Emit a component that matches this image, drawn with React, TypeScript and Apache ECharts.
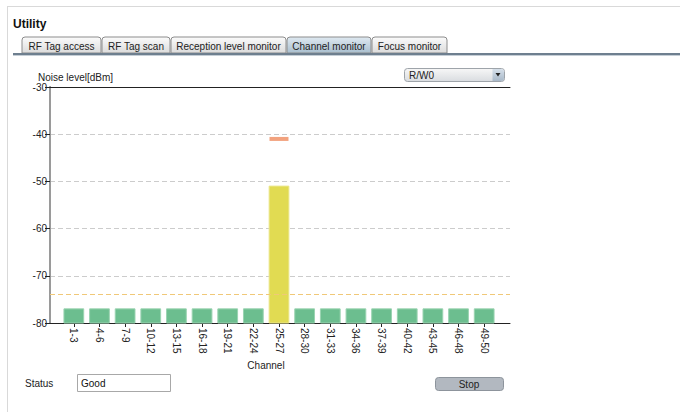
import React, { useEffect, useRef } from "react";
import * as echarts from "echarts";

const channelLabels = ["1-3", "4-6", "7-9", "10-12", "13-15", "16-18", "19-21", "22-24", "25-27", "28-30", "31-33", "34-36", "37-39", "40-42", "43-45", "46-48", "49-50"];
const noiseLevels = [-77, -77, -77, -77, -77, -77, -77, -77, -51, -77, -77, -77, -77, -77, -77, -77, -77];
const peakLevels: (number | string)[] = ["-", "-", "-", "-", "-", "-", "-", "-", -41, "-", "-", "-", "-", "-", "-", "-", "-"];
const threshold = -74;
const yMin = -80;
const yMax = -30;
const yStep = 10;
const tabs = ["RF Tag access", "RF Tag scan", "Reception level monitor", "Channel monitor", "Focus monitor"];
const activeTab = "Channel monitor";

const FONT = "'Liberation Sans', Arial, sans-serif";

export default function App() {
  const ref = useRef<HTMLDivElement>(null);
  useEffect(() => {
    if (!ref.current) return;
    const chart = echarts.init(ref.current, undefined, { renderer: "svg" });

    const tabEdges = [22, 102, 171, 287, 372, 448];
    const tabGraphics: any[] = [];
    tabs.forEach((t, i) => {
      const x0 = tabEdges[i];
      const x1 = tabEdges[i + 1] - 1;
      const active = t === activeTab;
      tabGraphics.push({
        type: "rect",
        shape: { x: x0, y: 37, width: x1 - x0, height: 16, r: [3, 3, 0, 0] },
        style: {
          fill: new echarts.graphic.LinearGradient(0, 0, 0, 1, active
            ? [{ offset: 0, color: "#dfe9f1" }, { offset: 1, color: "#a9bfcf" }]
            : [{ offset: 0, color: "#fbfbfb" }, { offset: 1, color: "#dcdcdc" }]),
          stroke: "#8c8c8c",
          lineWidth: 1,
        },
      });
      tabGraphics.push({
        type: "text",
        style: { text: t, x: (x0 + x1) / 2, y: 46, textAlign: "center", textVerticalAlign: "middle", font: `10px ${FONT}`, fill: "#222" },
      });
    });

    const option: any = {
      animation: false,
      backgroundColor: "#ffffff",
      grid: [
        { left: 50, top: 87, width: 460, height: 236, show: false },
        { left: 61, top: 87, width: 436, height: 236, show: false },
      ],
      xAxis: [
        {
          gridIndex: 0, type: "value", min: 0, max: 1,
          axisLine: { show: true, lineStyle: { color: "#222", width: 1 } },
          axisTick: { show: false }, axisLabel: { show: false }, splitLine: { show: false },
        },
        {
          gridIndex: 0, type: "value", position: "top", min: 0, max: 1,
          axisLine: { show: true, lineStyle: { color: "#222", width: 1 } },
          axisTick: { show: false }, axisLabel: { show: false }, splitLine: { show: false },
        },
        {
          gridIndex: 1, type: "category", data: channelLabels,
          axisLine: { show: true, lineStyle: { color: "#222", width: 1 } },
          axisTick: { show: true, alignWithLabel: true, length: 4, lineStyle: { color: "#222" } },
          axisLabel: { rotate: -90, fontSize: 10, fontFamily: FONT, color: "#222", margin: 5, interval: 0 },
          splitLine: { show: false },
        },
      ],
      yAxis: [
        {
          gridIndex: 0, type: "value", min: yMin, max: yMax, interval: yStep,
          axisLine: { show: true, lineStyle: { color: "#222", width: 1 } },
          axisTick: { show: true, length: 5, lineStyle: { color: "#222" } },
          axisLabel: { fontSize: 10, fontFamily: FONT, color: "#222", margin: 3 },
          splitLine: { show: true, lineStyle: { color: "#cccccc", type: [5, 3], width: 1 } },
        },
        {
          gridIndex: 0, type: "value", position: "right", min: yMin, max: yMax,
          axisLine: { show: true, lineStyle: { color: "#9a9a9a", width: 2 } },
          axisTick: { show: false }, axisLabel: { show: false }, splitLine: { show: false },
        },
        { gridIndex: 1, type: "value", min: yMin, max: yMax, show: false },
      ],
      series: [
        {
          type: "line",
          xAxisIndex: 0,
          yAxisIndex: 0,
          data: [],
          silent: true,
          markLine: {
            silent: true,
            symbol: "none",
            label: { show: false },
            lineStyle: { color: "#f0c878", type: [5, 3], width: 1 },
            data: [[{ coord: [0, threshold] }, { coord: [1, threshold] }]],
          },
        },
        {
          type: "custom",
          xAxisIndex: 2,
          yAxisIndex: 2,
          data: noiseLevels.map((v, i) => [i, v]),
          renderItem: (params: any, api: any) => {
            const idx = api.value(0);
            const v = api.value(1);
            const top = api.coord([idx, v]);
            const bottom = api.coord([idx, yMin]);
            const w = api.size([1, 0])[0] * 0.77;
            return {
              type: "rect",
              shape: { x: top[0] - w / 2, y: top[1], width: w, height: bottom[1] - top[1] },
              style: { fill: v > threshold ? "#e1db52" : "#6cbe8f", stroke: v > threshold ? "#ebe68a" : "#9ad3b1", lineWidth: 1 },
            };
          },
        },
        {
          type: "scatter",
          xAxisIndex: 2,
          yAxisIndex: 2,
          symbol: "rect",
          symbolSize: [19, 4],
          itemStyle: { color: "#f2a27e", opacity: 1 },
          data: peakLevels,
        },
      ],
      graphic: [
        { type: "line", shape: { x1: 7, y1: 6.5, x2: 680, y2: 6.5 }, style: { stroke: "#d9d9d9", lineWidth: 1 } },
        { type: "line", shape: { x1: 7.5, y1: 6, x2: 7.5, y2: 412 }, style: { stroke: "#d9d9d9", lineWidth: 1 } },
        { type: "text", style: { text: "Utility", x: 13, y: 24, textVerticalAlign: "middle", font: `bold 12px ${FONT}`, fill: "#111" } },
        ...tabGraphics,
        { type: "rect", shape: { x: 13, y: 53, width: 667, height: 2 }, style: { fill: "#6e7f8f" } },
        { type: "rect", shape: { x: 13, y: 55, width: 667, height: 1 }, style: { fill: "#c5ced6" } },
        { type: "text", style: { text: "Noise level[dBm]", x: 38, y: 77, textVerticalAlign: "middle", font: `10px ${FONT}`, fill: "#222" } },
        {
          type: "rect", shape: { x: 404.5, y: 68.5, width: 100, height: 13, r: 3 },
          style: {
            fill: new echarts.graphic.LinearGradient(0, 0, 0, 1, [{ offset: 0, color: "#f7f7f7" }, { offset: 1, color: "#d9dce0" }]),
            stroke: "#9ea4aa", lineWidth: 1,
          },
        },
        {
          type: "rect", shape: { x: 492.5, y: 69, width: 11.5, height: 12, r: [0, 3, 3, 0] },
          style: { fill: new echarts.graphic.LinearGradient(0, 0, 0, 1, [{ offset: 0, color: "#d6e0ea" }, { offset: 1, color: "#a9b9c9" }]) },
        },
        { type: "polygon", shape: { points: [[495.5, 73], [500.5, 73], [498, 76.5]] }, style: { fill: "#222" } },
        { type: "text", style: { text: "R/W0", x: 409, y: 75, textVerticalAlign: "middle", font: `10px ${FONT}`, fill: "#222" } },
        { type: "text", style: { text: "Channel", x: 266, y: 365, textAlign: "center", textVerticalAlign: "middle", font: `10px ${FONT}`, fill: "#222" } },
        { type: "text", style: { text: "Status", x: 25, y: 383, textVerticalAlign: "middle", font: `10px ${FONT}`, fill: "#222" } },
        { type: "rect", shape: { x: 77.5, y: 374.5, width: 93, height: 17 }, style: { fill: "#fff", stroke: "#a8a8a8", lineWidth: 1 } },
        { type: "text", style: { text: "Good", x: 81, y: 383, textVerticalAlign: "middle", font: `10px ${FONT}`, fill: "#111" } },
        {
          type: "rect", shape: { x: 435.5, y: 377.5, width: 68, height: 13, r: 3 },
          style: { fill: "#b2b8c0", stroke: "#8d949c", lineWidth: 1 },
        },
        { type: "text", style: { text: "Stop", x: 469, y: 384.5, textAlign: "center", textVerticalAlign: "middle", font: `10px ${FONT}`, fill: "#222" } },
      ],
    };
    chart.setOption(option);
    return () => chart.dispose();
  }, []);
  return <div ref={ref} style={{ position: "absolute", left: 0, top: 0, width: 680, height: 412, background: "#fff" }} />;
}
